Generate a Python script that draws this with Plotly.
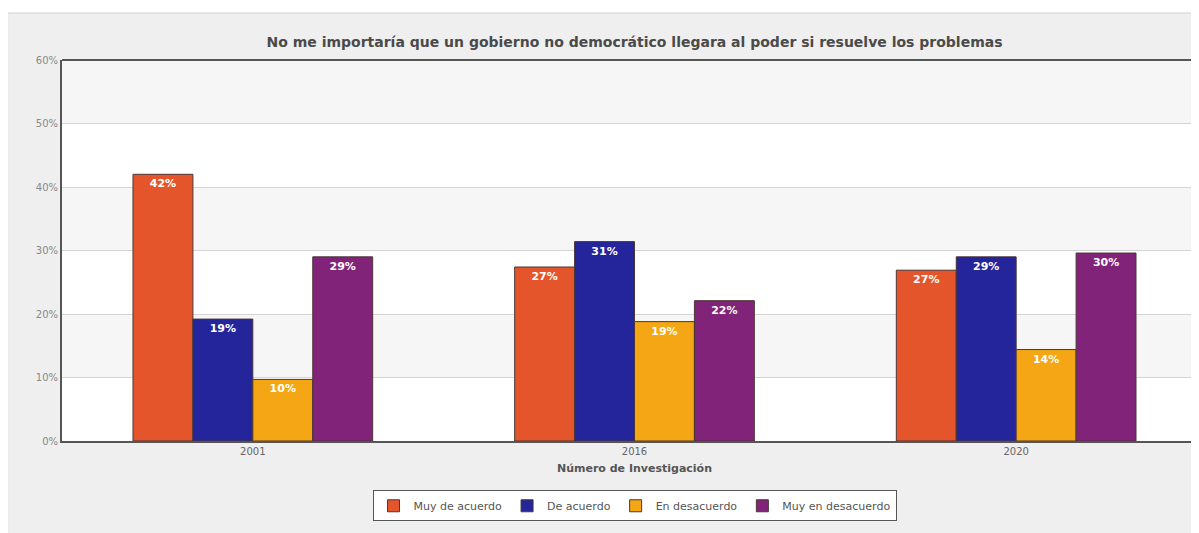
import plotly.graph_objects as go

years = ["2001", "2016", "2020"]
series_names = ["Muy de acuerdo", "De acuerdo", "En desacuerdo", "Muy en desacuerdo"]
muy_de_acuerdo = [42.0, 27.4, 26.9]
de_acuerdo = [19.2, 31.4, 29.0]
en_desacuerdo = [9.7, 18.8, 14.4]
muy_en_desacuerdo = [29.0, 22.1, 29.6]
y_ticks = [0, 10, 20, 30, 40, 50, 60]
y_tick_labels = ["0%", "10%", "20%", "30%", "40%", "50%", "60%"]

colors = ["#e4552b", "#24249b", "#f5a615", "#82237a"]
font = "DejaVu Sans"

fig = go.Figure()

for name, vals, color in zip(series_names,
                             [muy_de_acuerdo, de_acuerdo, en_desacuerdo, muy_en_desacuerdo],
                             colors):
    fig.add_trace(go.Bar(
        x=years,
        y=vals,
        name=name,
        marker=dict(color=color, line=dict(color="#4b3636", width=1)),
        texttemplate="<b>%{y:.0f}%</b>",
        textposition="inside",
        insidetextanchor="end",
        textangle=0,
        textfont=dict(color="white", size=11, family=font),
    ))

# outer grey panel
fig.add_shape(type="rect", xref="paper", yref="paper",
              x0=-0.0475, x1=1.2, y0=-0.4, y1=1.1234,
              fillcolor="#efefef", line=dict(color="#cfcfcf", width=1), layer="below")
# white plot background over the panel
fig.add_shape(type="rect", xref="paper", yref="paper",
              x0=0, x1=1, y0=0, y1=1,
              fillcolor="white", line=dict(width=0), layer="below")
# alternating horizontal bands behind the bars
for i in range(len(y_ticks) - 1):
    if i % 2 == 1:
        fig.add_shape(type="rect", xref="paper", yref="y", x0=0, x1=1,
                      y0=y_ticks[i], y1=y_ticks[i + 1],
                      fillcolor="#f6f6f6", line=dict(width=0), layer="below")
# top border of plot area
fig.add_shape(type="line", xref="paper", yref="paper",
              x0=0, x1=1, y0=1, y1=1, line=dict(color="#555555", width=2))

fig.update_layout(
    width=1199,
    height=533,
    margin=dict(l=54, r=0, t=52, b=100),
    paper_bgcolor="white",
    plot_bgcolor="rgba(0,0,0,0)",
    barmode="group",
    bargap=0.372,
    bargroupgap=0,
    font=dict(family=font, size=10, color="#777777"),
    title=dict(
        text="<b>No me importaría que un gobierno no democrático llegara al poder si resuelve los problemas</b>",
        x=0.5, xref="paper", xanchor="center",
        y=1 - 34 / 533, yanchor="middle",
        font=dict(size=14, color="#4a4a4a", family=font),
    ),
    xaxis=dict(
        type="category",
        range=[-0.5, 2.5],
        showline=True,
        linecolor="#555555",
        linewidth=2,
        ticks="",
        tickfont=dict(size=10, color="#666666"),
        title=dict(text="<b>Número de Investigación</b>",
                   font=dict(size=11, color="#555555"), standoff=8),
    ),
    yaxis=dict(
        range=[0, 60],
        tickmode="array",
        tickvals=y_ticks,
        ticktext=y_tick_labels,
        showline=True,
        linecolor="#555555",
        linewidth=2,
        gridcolor="#d4d4d4",
        zeroline=False,
        ticks="",
        tickfont=dict(size=10, color="#888888"),
        layer="below traces",
    ),
    legend=dict(
        orientation="h",
        x=0.5, xanchor="center",
        y=-0.17, yanchor="middle",
        bgcolor="white",
        bordercolor="#555555",
        borderwidth=1,
        font=dict(size=11, color="#555555", family=font),
        traceorder="normal",
    ),
)

fig.write_html("out.html")
